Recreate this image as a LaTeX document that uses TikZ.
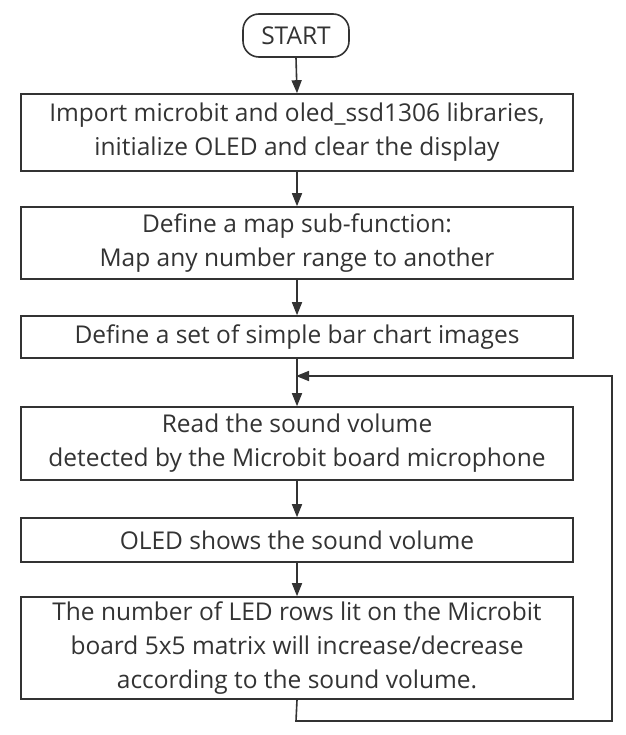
\documentclass[tikz,border=0pt]{standalone}
\usepackage{fontspec}
\setmainfont{Open Sans}
\usetikzlibrary{arrows.meta}
\definecolor{ln}{HTML}{333333}
\tikzset{
  every node/.style={text=ln},
  procbox/.style={draw=ln, line width=1.6pt, rectangle, align=center, inner sep=0pt,
    minimum width=552pt, font=\fontsize{24.5}{34}\selectfont},
  termbox/.style={draw=ln, line width=1.6pt, rectangle, rounded corners=16pt, align=center,
    minimum width=106pt, minimum height=43pt, inner sep=0pt, font=\fontsize{24.5}{34}\selectfont},
  conn/.style={draw=ln, line width=1.6pt, -{Triangle[length=13pt,width=10pt]}},
}
\begin{document}
\begin{tikzpicture}[x=1pt,y=-1pt]
\useasboundingbox[fill=white] (0,0) rectangle (625,735);
\node[termbox] (start) at (296,35.5) {START};
\node[procbox, minimum height=77pt] (b1) at (297,132.5) {Import microbit and oled\_ssd1306 libraries,\\initialize OLED and clear the display};
\node[procbox, minimum height=72pt] (b2) at (297,243) {Define a map sub-function:\\Map any number range to another};
\node[procbox, minimum height=42pt] (b3) at (297,337) {Define a set of simple bar chart images};
\node[procbox, minimum height=73pt] (b4) at (297,443.5) {Read the sound volume\\detected by the Microbit board microphone};
\node[procbox, minimum height=44pt] (b5) at (297,540) {OLED shows the sound volume};
\node[procbox, minimum height=102pt] (b6) at (297,648) {The number of LED rows lit on the Microbit\\board 5x5 matrix will increase/decrease\\according to the sound volume.};
\coordinate (lb) at (296,721);
\coordinate (lr) at (612,721);
\coordinate (lt) at (612,376);
\coordinate (j) at (296,376);
\draw[conn] (start.south) -- (b1.north);
\draw[conn] (b1.south) -- (b2.north);
\draw[conn] (b2.south) -- (b3.north);
\draw[conn] (b3.south) -- (b4.north);
\draw[conn] (b4.south) -- (b5.north);
\draw[conn] (b5.south) -- (b6.north);
\draw[conn] (b6.south) -- (lb) -- (lr) -- (lt) -- (j);
\end{tikzpicture}
\end{document}
